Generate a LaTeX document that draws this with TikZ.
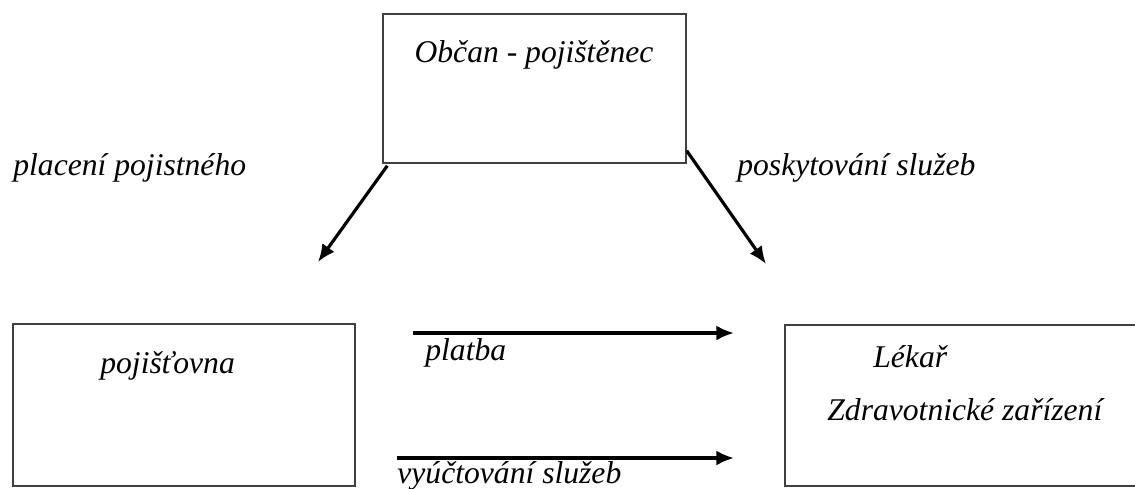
\documentclass[tikz,border=0pt]{standalone}
\usepackage{fontspec}
\setmainfont{Liberation Serif}
\usetikzlibrary{arrows.meta, positioning}

\begin{document}
\begin{tikzpicture}[
    x=0.02cm, y=-0.02cm,
    box/.style={rectangle, draw=black!75, line width=0.8pt, inner sep=0pt},
    lbl/.style={font=\fontsize{18}{22}\selectfont\itshape, inner sep=0pt, anchor=base west},
    arrow/.style={line width=1.8pt, -{Latex[length=10pt, width=8.5pt]}}
]
\useasboundingbox (0,0) rectangle (1135,488);

% Boxes
\node[box, minimum width=6.06cm, minimum height=2.98cm] (obcan) at (534.5,88.5) {};
\node[box, minimum width=6.84cm, minimum height=3.24cm] (pojistovna) at (184,405) {};
\node[box, minimum width=7.2cm, minimum height=3.22cm] (lekar) at (965,405.5) {};

% Box texts
\node[lbl, anchor=base] (obcantxt) at (534,62) {Občan - pojištěnec};
\node[lbl] (pojtxt) at (100,373) {pojišťovna};
\node[lbl] (lekartxt) at (873,367) {Lékař};
\node[lbl] (zaritxt) at (827,420) {Zdravotnické zařízení};

% Free ends of the arrows
\coordinate (tipL) at (318,262);
\coordinate (tipR) at (766,264);
\coordinate (platS) at (413,333);
\coordinate (platE) at (734,333);
\coordinate (vyuS) at (397,458);
\coordinate (vyuE) at (734,458);

% Arrows
\draw[arrow] ([shift={(5,2)}]obcan.south west) -- (tipL);
\draw[arrow] ([shift={(0,-13)}]obcan.south east) -- (tipR);
\draw[arrow] (platS) -- (platE);
\draw[arrow] (vyuS) -- (vyuE);

% Arrow labels
\node[lbl] (placeni) at (13,175) {placení pojistného};
\node[lbl] (poskyt) at (737,175) {poskytování služeb};
\node[lbl] (platba) at (425,360) {platba};
\node[lbl] (vyuct) at (397,483) {vyúčtování služeb};

\end{tikzpicture}
\end{document}
